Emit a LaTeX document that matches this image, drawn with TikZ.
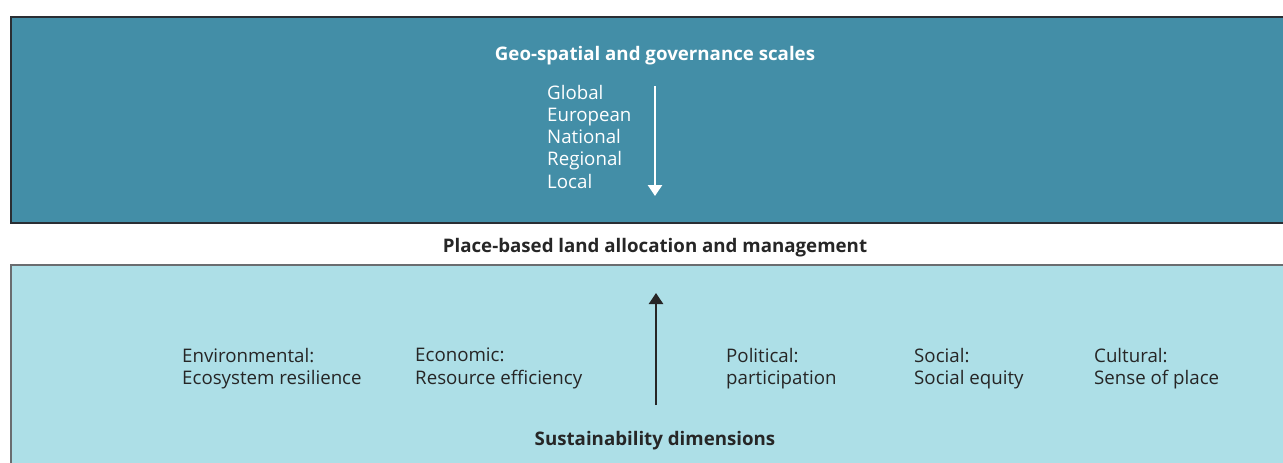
\documentclass[tikz,border=0pt]{standalone}
\usepackage{fontspec}
\setmainfont{Open Sans}
\usetikzlibrary{arrows.meta}
\definecolor{scaleblue}{HTML}{438EA7}
\definecolor{dimblue}{HTML}{ADDFE7}
\definecolor{edgegray}{HTML}{2A2E33}

\begin{document}
\begin{tikzpicture}[x=1pt, y=-1pt,
	txt/.style={font=\fontsize{18.7}{22.3}\selectfont, inner sep=0pt},
	head/.style={font=\fontsize{18.7}{22.3}\selectfont\bfseries, text=black!85, inner sep=0pt},
	dim/.style={txt, text=black!85, align=left, anchor=north west},
	flow/.style={line width=2.5pt, -{Triangle[width=14pt,length=11pt]}}]
	\clip (0,0) rectangle (1283,463);
	%\draw[help lines] (0,0) grid[step=50] (1283,463);
	
	% the two bands
	\draw[fill=scaleblue, draw=edgegray, line width=1.5pt] (11,17) rectangle (1300,223);
	\draw[fill=dimblue, draw=edgegray!70, line width=1.5pt] (11,265) rectangle (1300,480);
	
	\node[head, text=white] (geo) at (655,56) {Geo-spatial and governance scales};
	\node[head] (place) at (655,248) {Place-based land allocation and management};
	\node[head] (sust) at (655,441) {Sustainability dimensions};
	
	\foreach \n\s in {1/Global, 2/European, 3/National, 4/Regional, 5/Local}
	\node[txt, text=white, anchor=base west] (s\n) at (547, 99 + 22.3 * \n - 22.3) {\s};
	
	\coordinate (top1) at (655,86);
	\coordinate (top2) at (655,196);
	\draw[flow, white] (top1) -- (top2);
	
	\foreach \n\x\a\b in {1/182/Environmental:/Ecosystem resilience,
		2/415/Economic:/Resource efficiency,
		3/726/Political:/participation,
		4/914/Social:/Social equity,
		5/1094/Cultural:/Sense of place}
	\node[dim] (d\n) at (\x,348) {\a\\\b};
	
	\coordinate (bot1) at (656,405);
	\coordinate (bot2) at (656,293);
	\draw[flow, black!85] (bot1) -- (bot2);
	
\end{tikzpicture}
\end{document}
